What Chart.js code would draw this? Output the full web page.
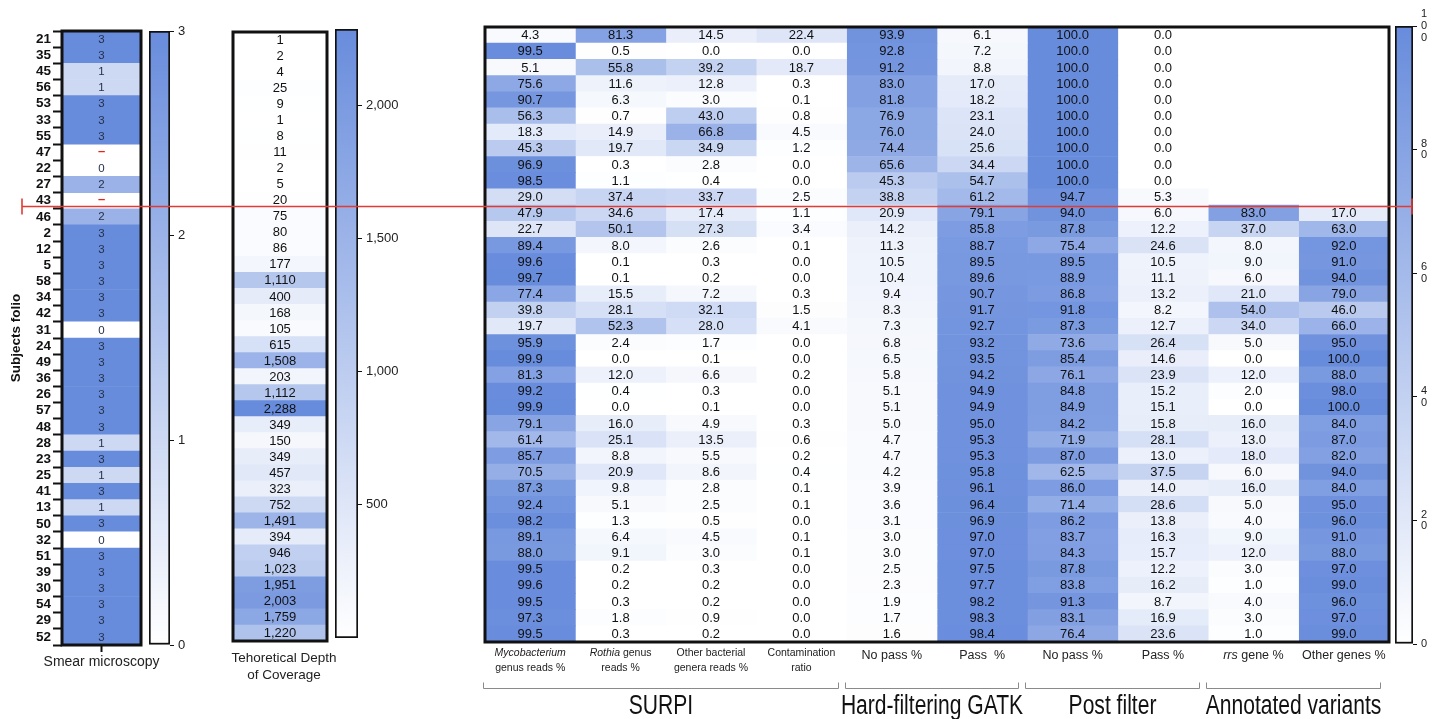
<!DOCTYPE html>
<html>
<head>
<meta charset="utf-8">
<script src="https://cdn.jsdelivr.net/npm/chart.js@4.4.1/dist/chart.umd.min.js"></script>
<style>
  html, body { margin: 0; padding: 0; background: #fff; }
  #wrap { position: relative; width: 1438px; height: 719px; overflow: hidden; }
  #wrap canvas { position: absolute; left: 0; top: 0; }
</style>
</head>
<body>
<div id="wrap">
  <canvas id="smear" width="1438" height="719"></canvas>
  <canvas id="smearBar" width="1438" height="719"></canvas>
  <canvas id="depth" width="1438" height="719"></canvas>
  <canvas id="depthBar" width="1438" height="719"></canvas>
  <canvas id="mainBar" width="1438" height="719"></canvas>
  <canvas id="main" width="1438" height="719"></canvas>
</div>
<script>
// ---- data ----
const subjects = ['21','35','45','56','53','33','55','47','22','27','43','46','2','12','5','58','34','42','31','24',
  '49','36','26','57','48','28','23','25','41','13','50','32','51','39','30','54','29','52'];

const smear = [3,3,1,1,3,3,3,null,0,2,null,2,3,3,3,3,3,3,0,3,3,3,3,3,3,1,3,1,3,1,3,0,3,3,3,3,3,3];

const depth = [1,2,4,25,9,1,8,11,2,5,20,75,80,86,177,1110,400,168,105,615,1508,203,1112,2288,349,150,349,457,
  323,752,1491,394,946,1023,1951,2003,1759,1220];

const mycoReads = [4.3,99.5,5.1,75.6,90.7,56.3,18.3,45.3,96.9,98.5,29.0,47.9,22.7,89.4,99.6,99.7,77.4,39.8,19.7,
  95.9,99.9,81.3,99.2,99.9,79.1,61.4,85.7,70.5,87.3,92.4,98.2,89.1,88.0,99.5,99.6,99.5,97.3,99.5];
const rothiaReads = [81.3,0.5,55.8,11.6,6.3,0.7,14.9,19.7,0.3,1.1,37.4,34.6,50.1,8.0,0.1,0.1,15.5,28.1,52.3,
  2.4,0.0,12.0,0.4,0.0,16.0,25.1,8.8,20.9,9.8,5.1,1.3,6.4,9.1,0.2,0.2,0.3,1.8,0.3];
const otherReads = [14.5,0.0,39.2,12.8,3.0,43.0,66.8,34.9,2.8,0.4,33.7,17.4,27.3,2.6,0.3,0.2,7.2,32.1,28.0,
  1.7,0.1,6.6,0.3,0.1,4.9,13.5,5.5,8.6,2.8,2.5,0.5,4.5,3.0,0.3,0.2,0.2,0.9,0.2];
const contamination = [22.4,0.0,18.7,0.3,0.1,0.8,4.5,1.2,0.0,0.0,2.5,1.1,3.4,0.1,0.0,0.0,0.3,1.5,4.1,
  0.0,0.0,0.2,0.0,0.0,0.3,0.6,0.2,0.4,0.1,0.1,0.0,0.1,0.1,0.0,0.0,0.0,0.0,0.0];
const gatkNoPass = [93.9,92.8,91.2,83.0,81.8,76.9,76.0,74.4,65.6,45.3,38.8,20.9,14.2,11.3,10.5,10.4,9.4,8.3,7.3,
  6.8,6.5,5.8,5.1,5.1,5.0,4.7,4.7,4.2,3.9,3.6,3.1,3.0,3.0,2.5,2.3,1.9,1.7,1.6];
const gatkPass = [6.1,7.2,8.8,17.0,18.2,23.1,24.0,25.6,34.4,54.7,61.2,79.1,85.8,88.7,89.5,89.6,90.7,91.7,92.7,
  93.2,93.5,94.2,94.9,94.9,95.0,95.3,95.3,95.8,96.1,96.4,96.9,97.0,97.0,97.5,97.7,98.2,98.3,98.4];
const postNoPass = [100.0,100.0,100.0,100.0,100.0,100.0,100.0,100.0,100.0,100.0,94.7,94.0,87.8,75.4,89.5,88.9,
  86.8,91.8,87.3,73.6,85.4,76.1,84.8,84.9,84.2,71.9,87.0,62.5,86.0,71.4,86.2,83.7,84.3,87.8,83.8,91.3,83.1,76.4];
const postPass = [0.0,0.0,0.0,0.0,0.0,0.0,0.0,0.0,0.0,0.0,5.3,6.0,12.2,24.6,10.5,11.1,13.2,8.2,12.7,
  26.4,14.6,23.9,15.2,15.1,15.8,28.1,13.0,37.5,14.0,28.6,13.8,16.3,15.7,12.2,16.2,8.7,16.9,23.6];
const rrsGene = [null,null,null,null,null,null,null,null,null,null,null,83.0,37.0,8.0,9.0,6.0,21.0,54.0,34.0,
  5.0,0.0,12.0,2.0,0.0,16.0,13.0,18.0,6.0,16.0,5.0,4.0,9.0,12.0,3.0,1.0,4.0,3.0,1.0];
const otherGenes = [null,null,null,null,null,null,null,null,null,null,null,17.0,63.0,92.0,91.0,94.0,79.0,46.0,66.0,
  95.0,100.0,88.0,98.0,100.0,84.0,87.0,82.0,94.0,84.0,95.0,96.0,91.0,88.0,97.0,99.0,96.0,97.0,99.0];

// text between * * is italic
const columnLabels = [
  ['*Mycobacterium*', 'genus reads %'],
  ['*Rothia* genus', 'reads %'],
  ['Other bacterial', 'genera reads %'],
  ['Contamination', 'ratio'],
  ['No pass %'], ['Pass  %'], ['No pass %'], ['Pass %'], ['*rrs* gene %'], ['Other genes %']
];
const groupNames = ['SURPI', 'Hard-filtering GATK', 'Post filter', 'Annotated variants'];
const groupSpans = [[0, 4], [4, 6], [6, 8], [8, 10]];

const smearTicks = [0, 1, 2, 3];
const depthTicks = [500, 1000, 1500, 2000];
const mainTicks = [0, 20, 40, 60, 80, 100];

// ---- helpers ----
const FONT = "'Liberation Sans', Arial, Helvetica, sans-serif";
Chart.defaults.font.family = FONT;
Chart.defaults.color = '#111';
const W = 1438, H = 719;
const HIGH = [104, 140, 220];

function heat(v, max) {
  if (v == null) return 'rgba(0,0,0,0)';
  const t = Math.max(0, Math.min(1, v / max));
  const c = HIGH.map(h => Math.round(255 + (h - 255) * t));
  return `rgb(${c[0]},${c[1]},${c[2]})`;
}

function pad(box, axes) {
  axes = axes || {};
  return {
    left: box.l - (axes.left || 0),
    top: box.t,
    right: W - box.r - (axes.right || 0),
    bottom: H - box.b
  };
}

const cellText = {
  id: 'cellText',
  afterDatasetsDraw(chart, args, o) {
    const ctx = chart.ctx;
    ctx.save();
    ctx.textAlign = 'center';
    ctx.textBaseline = 'middle';
    chart.data.datasets.forEach((ds, di) => {
      chart.getDatasetMeta(di).data.forEach((bar, i) => {
        const v = ds.values[i];
        const p = bar.getCenterPoint();
        if (v == null) {
          if (o.nullMark) {
            ctx.fillStyle = '#e3241b';
            ctx.font = 'bold 13px ' + FONT;
            ctx.fillText('–', p.x, p.y - 1);
          }
          return;
        }
        let s = o.decimals ? v.toFixed(o.decimals) : String(v);
        if (o.comma) s = v.toLocaleString('en-US');
        ctx.fillStyle = o.color;
        ctx.font = o.size + 'px ' + FONT;
        ctx.fillText(s, p.x, p.y + 0.5);
      });
    });
    ctx.restore();
  }
};

const frame = {
  id: 'frame',
  afterDatasetsDraw(chart, args, o) {
    const { ctx, chartArea: a } = chart;
    ctx.save();
    ctx.strokeStyle = '#111';
    ctx.lineWidth = o.width || 3;
    ctx.strokeRect(a.left, a.top, a.right - a.left, a.bottom - a.top);
    ctx.restore();
  }
};

const footer = {
  id: 'footer',
  afterDraw(chart, args, o) {
    if (!o.lines) return;
    const { ctx, chartArea: a } = chart;
    const cx = (a.left + a.right) / 2 + (o.dx || 0);
    ctx.save();
    if (o.tick) {
      ctx.strokeStyle = '#111';
      ctx.lineWidth = 2;
      ctx.beginPath();
      ctx.moveTo((a.left + a.right) / 2, a.bottom);
      ctx.lineTo((a.left + a.right) / 2, a.bottom + o.tick);
      ctx.stroke();
    }
    ctx.fillStyle = '#222';
    ctx.font = o.size + 'px ' + FONT;
    ctx.textAlign = 'center';
    ctx.textBaseline = 'middle';
    o.lines.forEach((t, i) => ctx.fillText(t, cx, a.bottom + o.gap + i * o.lineH));
    ctx.restore();
  }
};

function heatmap(id, cols, max, box, extra) {
  extra = extra || {};
  return new Chart(document.getElementById(id), {
    type: 'bar',
    data: {
      labels: subjects,
      datasets: cols.map((vals, c) => ({
        values: vals,
        data: vals.map(() => [c, c + 1]),
        backgroundColor: vals.map(v => heat(v, max)),
        borderWidth: 0,
        barPercentage: 1,
        categoryPercentage: 1,
        grouped: false
      }))
    },
    options: {
      indexAxis: 'y',
      responsive: false,
      animation: false,
      devicePixelRatio: 1,
      layout: { padding: pad(box, { left: extra.axisW || 0 }) },
      plugins: {
        legend: { display: false },
        tooltip: { enabled: false },
        cellText: extra.text,
        frame: { width: 3 },
        footer: extra.footer || {}
      },
      scales: {
        x: { type: 'linear', min: 0, max: cols.length, display: false },
        y: extra.yAxis || { display: false }
      }
    },
    plugins: [cellText, frame, footer]
  });
}

function colorBar(id, max, box, tickVals, fmt, axisW, tickFont) {
  return new Chart(document.getElementById(id), {
    type: 'bar',
    data: {
      labels: [''],
      datasets: [{
        data: [[0, max]],
        backgroundColor(ctx) {
          const a = ctx.chart.chartArea;
          if (!a) return heat(max / 2, max);
          const g = ctx.chart.ctx.createLinearGradient(0, a.bottom, 0, a.top);
          g.addColorStop(0, '#ffffff');
          g.addColorStop(1, heat(max, max));
          return g;
        },
        borderColor: '#111',
        borderWidth: 2,
        borderSkipped: false,
        barPercentage: 1,
        categoryPercentage: 1
      }]
    },
    options: {
      responsive: false,
      animation: false,
      devicePixelRatio: 1,
      layout: { padding: pad(box, { right: axisW }) },
      plugins: { legend: { display: false }, tooltip: { enabled: false } },
      scales: {
        x: { display: false },
        y: {
          position: 'right',
          min: 0,
          max: max,
          afterFit(s) { s.width = axisW; },
          afterBuildTicks(s) { s.ticks = tickVals.map(v => ({ value: v })); },
          ticks: { callback: fmt, font: tickFont, color: '#222', padding: 4, autoSkip: false, maxRotation: 0 },
          grid: { drawOnChartArea: false, tickLength: 4, tickColor: '#111', tickWidth: 1 },
          border: { display: false }
        }
      }
    }
  });
}

// ---- smear microscopy ----
heatmap('smear', [smear], 3, { l: 62, t: 31, r: 141, b: 645 }, {
  axisW: 54,
  text: { size: 11.5, color: '#25304a', nullMark: true },
  footer: { lines: ['Smear microscopy'], size: 14, gap: 17, lineH: 16, tick: 7 },
  yAxis: {
    type: 'category',
    position: 'left',
    offset: true,
    afterFit(s) { s.width = 54; },
    ticks: { font: { size: 13.5, weight: 'bold' }, color: '#111', padding: 2, autoSkip: false },
    grid: { drawOnChartArea: false, tickLength: 9, tickWidth: 2, tickColor: '#111' },
    border: { display: false },
    title: { display: true, text: 'Subjects folio', font: { size: 13.5, weight: 'bold' }, color: '#111', padding: 0 }
  }
});
colorBar('smearBar', 3, { l: 149, t: 31, r: 170, b: 645 }, smearTicks, v => String(v), 30, { size: 13 });

// ---- depth of coverage ----
heatmap('depth', [depth], 2288, { l: 233, t: 32, r: 327, b: 641 }, {
  text: { size: 13, color: '#111', comma: true },
  footer: { lines: ['Tehoretical Depth', 'of Coverage'], size: 13.5, gap: 17, lineH: 17, dx: 4 }
});
colorBar('depthBar', 2288, { l: 335, t: 29, r: 358, b: 638 }, depthTicks, v => v.toLocaleString('en-US'), 50, { size: 13 });

// ---- main table ----
colorBar('mainBar', 100, { l: 1395, t: 26, r: 1413, b: 644 }, mainTicks, v => String(v).split(''), 20,
  { size: 11, lineHeight: 1.05 });

function drawRich(ctx, text, cx, y, size) {
  const parts = text.split('*').map((s, i) => ({ s, it: i % 2 === 1 })).filter(p => p.s);
  const fontOf = p => (p.it ? 'italic ' : '') + size + 'px ' + FONT;
  let total = 0;
  parts.forEach(p => { ctx.font = fontOf(p); p.w = ctx.measureText(p.s).width; total += p.w; });
  let x = cx - total / 2;
  ctx.textAlign = 'left';
  parts.forEach(p => { ctx.font = fontOf(p); ctx.fillText(p.s, x, y); x += p.w; });
}

const mainDecor = {
  id: 'mainDecor',
  afterDraw(chart) {
    const { ctx, chartArea: a, scales } = chart;
    const xs = scales.x, ys = scales.y;
    ctx.save();
    ctx.fillStyle = '#222';
    ctx.textBaseline = 'middle';
    // column labels
    columnLabels.forEach((lines, c) => {
      const cx = xs.getPixelForValue(c + 0.5);
      if (lines.length === 2) {
        lines.forEach((t, i) => drawRich(ctx, t, cx, a.bottom + 11 + i * 15, 10.5));
      } else {
        drawRich(ctx, lines[0], cx, a.bottom + 14, 12.5);
      }
    });
    // group brackets and titles
    ctx.strokeStyle = '#8a8a8a';
    ctx.lineWidth = 1;
    const by = a.bottom + 46.5;
    groupSpans.forEach(([s, e], g) => {
      const x0 = Math.round(xs.getPixelForValue(s)) - 1.5;
      const x1 = Math.round(xs.getPixelForValue(e)) - 8.5;
      ctx.beginPath();
      ctx.moveTo(x0, by - 6); ctx.lineTo(x0, by); ctx.lineTo(x1, by); ctx.lineTo(x1, by - 6);
      ctx.stroke();
      const cx = (x0 + x1) / 2;
      ctx.save();
      ctx.translate(cx, a.bottom + 65);
      ctx.scale(0.78, 1);
      ctx.font = '27px ' + FONT;
      ctx.textAlign = 'center';
      ctx.fillStyle = '#111';
      ctx.fillText(groupNames[g], 0, 0);
      ctx.restore();
    });
    // red separator line between subject 43 and 46
    const ly = Math.round(ys.getPixelForValue(10.5)) + 1.5;
    ctx.strokeStyle = '#e23b33';
    ctx.lineWidth = 1.6;
    ctx.beginPath();
    ctx.moveTo(22, ly); ctx.lineTo(1412, ly);
    ctx.moveTo(22, ly - 8); ctx.lineTo(22, ly + 8);
    ctx.moveTo(1412, ly - 8); ctx.lineTo(1412, ly + 8);
    ctx.stroke();
    ctx.restore();
  }
};

const mainChart = heatmap('main',
  [mycoReads, rothiaReads, otherReads, contamination, gatkNoPass, gatkPass, postNoPass, postPass, rrsGene, otherGenes],
  100, { l: 485, t: 27, r: 1389, b: 642 }, {
    text: { size: 13, color: '#111', decimals: 1 }
  });
mainChart.config.plugins.push(mainDecor);
mainChart.update();
</script>
</body>
</html>
